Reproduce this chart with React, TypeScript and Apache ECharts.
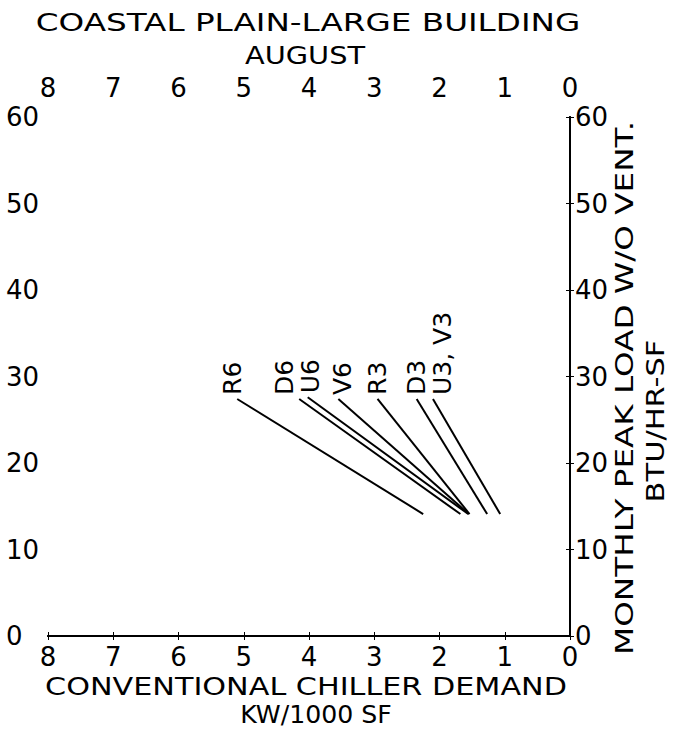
import React, { useEffect, useRef } from "react";
import * as echarts from "echarts";

const titleLine1 = "COASTAL PLAIN-LARGE BUILDING";
const titleLine2 = "AUGUST";
const xAxisName1 = "CONVENTIONAL CHILLER DEMAND";
const xAxisName2 = "KW/1000 SF";
const yAxisName1 = "MONTHLY PEAK LOAD W/O VENT.";
const yAxisName2 = "BTU/HR-SF";

const seriesNames = ["R6", "D6", "U6", "V6", "R3", "D3", "U3, V3"];
// each line: [demand at start, load at start] -> [demand at end, load at end]
const startDemand = [5.1, 4.15, 4.02, 3.55, 2.95, 2.35, 2.1];
const startLoad = [27.4, 27.4, 27.6, 27.4, 27.4, 27.4, 27.4];
const endDemand = [2.25, 1.68, 1.56, 1.55, 1.54, 1.27, 1.07];
const endLoad = [14.1, 14.1, 14.1, 14.1, 14.1, 14.1, 14.1];
const labelShift = [-5, -15, 3, 4, 0, 0, 10];

const FONT = "DejaVu Sans";
const FS = 24;

export default function App() {
  const ref = useRef<HTMLDivElement>(null);
  useEffect(() => {
    document.body.style.margin = "0";
    if (!ref.current) return;
    const chart = echarts.init(ref.current, undefined, { renderer: "svg" });
    const axisLabel = { color: "#000", fontFamily: FONT, fontSize: 26 };
    const xCommon = {
      type: "value",
      min: 0,
      max: 8,
      interval: 1,
      inverse: true,
      axisLine: { show: true, lineStyle: { color: "#000", width: 2 } },
      axisTick: { show: true, inside: true, length: 4, lineStyle: { color: "#000" } },
      splitLine: { show: false },
    };
    const yCommon = {
      type: "value",
      min: 0,
      max: 60,
      interval: 10,
      axisLine: { show: true, lineStyle: { color: "#000", width: 2 } },
      axisTick: { show: true, inside: true, length: 4, lineStyle: { color: "#000" } },
      splitLine: { show: false },
    };
    const series = seriesNames.map((name, i) => ({
      type: "line",
      name,
      data: [
        [startDemand[i], startLoad[i]],
        [endDemand[i], endLoad[i]],
      ],
      symbol: "none",
      lineStyle: { color: "#000", width: 2 },
      markPoint: {
        symbol: "circle",
        symbolSize: 0,
        data: [{ coord: [startDemand[i], startLoad[i]] }],
        label: {
          show: true,
          formatter: name,
          position: "inside",
          rotate: 90,
          align: "left",
          verticalAlign: "middle",
          offset: [4, labelShift[i]],
          color: "#000",
          fontFamily: FONT,
          fontSize: 25,
        },
      },
    }));
    const txt = (text: string, x: number, y: number, sx: number, rot = 0) => ({
      type: "text",
      x,
      y,
      rotation: rot,
      scaleX: sx,
      style: {
        text,
        fill: "#000",
        fontFamily: FONT,
        fontSize: FS,
        align: "center",
        verticalAlign: "middle",
      },
    });
    chart.setOption({
      animation: false,
      backgroundColor: "#fff",
      grid: { left: 48, right: 108, top: 117, bottom: 99 },
      xAxis: [
        { ...xCommon, position: "bottom", axisLabel: { ...axisLabel, margin: 8 } },
        { ...xCommon, position: "top", axisLabel: { ...axisLabel, margin: 16 } },
      ],
      yAxis: [
        { ...yCommon, position: "left", axisLabel: { ...axisLabel, margin: 42, align: "left" } },
        { ...yCommon, position: "right", axisLabel: { ...axisLabel, margin: 5 } },
      ],
      graphic: [
        txt(titleLine1, 308, 23, 1.36),
        txt(titleLine2, 305, 55, 1.2),
        txt(xAxisName1, 306, 687, 1.26),
        txt(xAxisName2, 316, 715, 1.05),
        txt(yAxisName1, 625, 388, 1.36, Math.PI / 2),
        txt(yAxisName2, 656, 421, 1.27, Math.PI / 2),
      ],
      series,
    });
    return () => chart.dispose();
  }, []);
  return <div ref={ref} style={{ width: 678, height: 735 }} />;
}
